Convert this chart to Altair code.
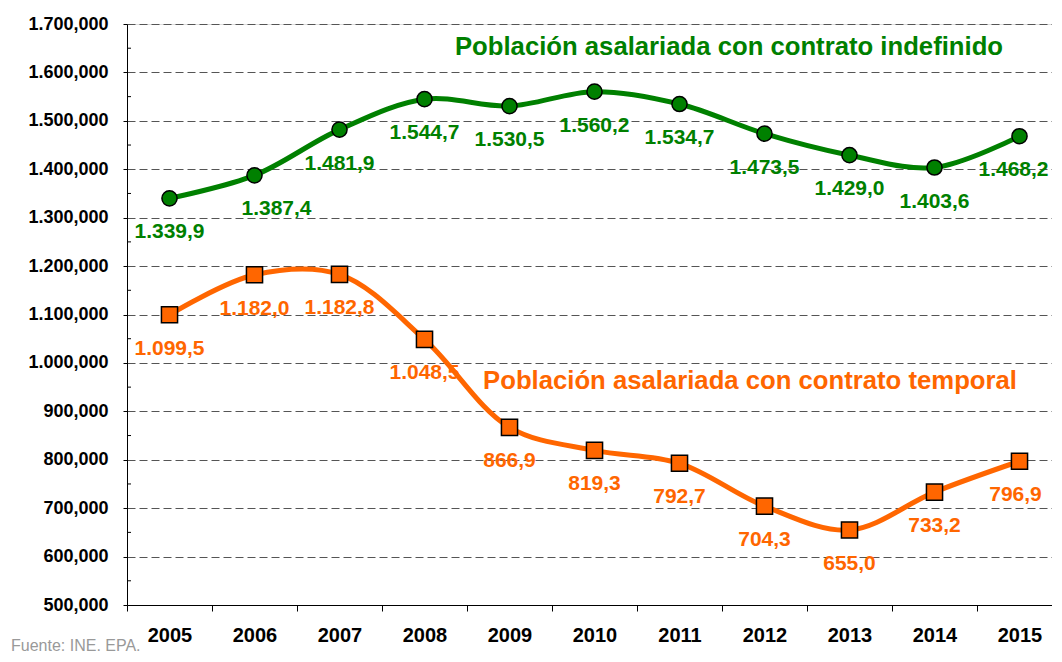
import altair as alt
import pandas as pd

years = ["2005", "2006", "2007", "2008", "2009", "2010", "2011", "2012", "2013", "2014", "2015"]
indefinido = [1339.9, 1387.4, 1481.9, 1544.7, 1530.5, 1560.2, 1534.7, 1473.5, 1429.0, 1403.6, 1468.2]
temporal = [1099.5, 1182.0, 1182.8, 1048.5, 866.9, 819.3, 792.7, 704.3, 655.0, 733.2, 796.9]
y_ticks = [500, 600, 700, 800, 900, 1000, 1100, 1200, 1300, 1400, 1500, 1600, 1700]
y_minor = [550, 650, 750, 850, 950, 1050, 1150, 1250, 1350, 1450, 1550, 1650]

GREEN = "#008000"
ORANGE = "#FF6600"
FONT = "Liberation Sans"

df_ind = pd.DataFrame({"year": years, "value": indefinido})
df_tem = pd.DataFrame({"year": years, "value": temporal})
df_minor = pd.DataFrame({"v": y_minor})

lab_expr = "replace(replace(replace(format(datum.value, ',.1f'), ',', 'X'), '.', ','), 'X', '.')"
axis_expr = "replace(replace(replace(format(datum.value, ',.3f'), ',', 'X'), '.', ','), 'X', '.')"

x_enc = alt.X(
    "year:O",
    title=None,
    scale=alt.Scale(type="band", paddingInner=0, paddingOuter=0, range=[0, 935]),
    axis=alt.Axis(
        labelAngle=0, tickBand="extent", grid=False, labelFont=FONT, labelFontSize=20,
        labelFontWeight="bold", labelColor="#000", tickColor="#000", domainColor="#000",
        tickSize=6, labelPadding=14, domainWidth=1,
    ),
)
y_enc = alt.Y(
    "value:Q",
    title=None,
    scale=alt.Scale(domain=[500, 1700], nice=False, zero=False),
    axis=alt.Axis(
        values=y_ticks, labelExpr=axis_expr, grid=True, gridDash=[8, 4], gridColor="#555",
        gridWidth=1, labelFont=FONT, labelFontSize=18, labelFontWeight="bold",
        labelColor="#000", tickColor="#000", domainColor="#000", tickSize=4,
        labelPadding=15,
    ),
)


def series(df, color, shape, size, shifted):
    base = alt.Chart(df).encode(x=x_enc, y=y_enc)
    line = base.mark_line(color=color, strokeWidth=5, interpolate="catmull-rom")
    pts = base.mark_point(shape=shape, filled=True, fill=color, stroke="#000",
                          strokeWidth=1.5, size=size, opacity=1)
    lab = base.transform_calculate(lab=lab_expr)
    style = dict(dy=34, font=FONT, fontSize=21, fontWeight="bold", color=color)
    layers = [line, pts]
    cond = " && ".join([f"datum.year != '{y}'" for y in shifted])
    layers.append(lab.transform_filter(cond).mark_text(**style).encode(text="lab:N"))
    for y, dx in shifted.items():
        layers.append(
            lab.transform_filter(f"datum.year == '{y}'")
            .mark_text(dx=dx, **style).encode(text="lab:N")
        )
    return alt.layer(*layers)


minor = alt.Chart(df_minor).mark_rule(color="#000", strokeWidth=1).encode(
    y=alt.Y("v:Q", scale=alt.Scale(domain=[500, 1700], nice=False, zero=False)),
    x=alt.value(0), x2=alt.value(4),
)

title_g = alt.Chart(pd.DataFrame({"t": ["Población asalariada con contrato indefinido"]})).mark_text(
    font=FONT, fontSize=25.7, fontWeight="bold", color=GREEN, align="center", baseline="middle"
).encode(text="t:N", x=alt.value(602), y=alt.value(23))

title_o = alt.Chart(pd.DataFrame({"t": ["Población asalariada con contrato temporal"]})).mark_text(
    font=FONT, fontSize=25.7, fontWeight="bold", color=ORANGE, align="center", baseline="middle"
).encode(text="t:N", x=alt.value(623), y=alt.value(357))

src = alt.Chart(pd.DataFrame({"t": ["Fuente: INE. EPA."]})).mark_text(
    font=FONT, fontSize=16, color="#999999", align="left", baseline="middle"
).encode(text="t:N", x=alt.value(-116), y=alt.value(622))

chart = alt.layer(
    minor,
    series(df_ind, GREEN, "circle", 230, {"2006": 22, "2015": -6}),
    series(df_tem, ORANGE, "square", 260, {"2015": -4}),
    title_g, title_o, src,
).properties(
    width=925, height=581,
    autosize=alt.AutoSizeParams(type="none"),
    padding={"left": 119, "top": 16, "right": 0, "bottom": 48},
).configure_view(stroke=None).configure(background="white")

chart.save("out.html", embed_options={"renderer": "svg", "actions": False})
